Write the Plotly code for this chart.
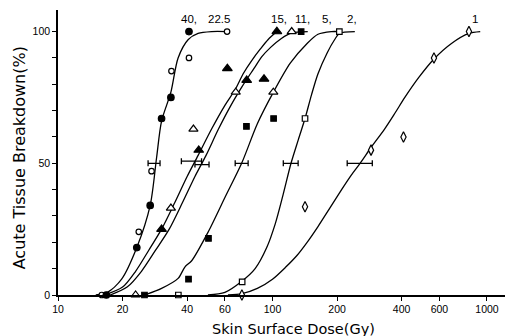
import math
import plotly.graph_objects as go

# ---------------- data ----------------
# observed points (dose in Gy, % breakdown)
fc_x = [16.8, 23.3, 26.9, 30.4, 33.6, 40.8]          # filled circles
fc_y = [0, 18, 34, 67, 75, 100]
oc_x = [16.0, 23.8, 27.3, 33.8, 40.8, 61.4]          # open circles
oc_y = [0, 24, 47, 85, 90, 100]
ft_x = [30.4, 45.3, 61.6, 75.8, 91.3, 104.8]         # filled triangles
ft_y = [25, 55, 86, 81.5, 82, 100]
ot_x = [23.0, 33.6, 42.8, 67.4, 100.9, 122.9]        # open triangles
ot_y = [0, 33, 63, 77, 77, 100]
fs_x = [25.3, 40.6, 50.3, 75.6, 101.2, 136]          # filled squares
fs_y = [0, 6, 21.5, 64, 67, 100]
os_x = [36.4, 72.2, 141.8, 205]                      # open squares
os_y = [0, 5, 67, 100]
od_x = [72, 141.8, 288, 408, 566, 824]               # open diamonds
od_y = [0, 33.5, 55, 60, 90, 100]

# fitted curves
cA_x = [15, 17.0, 19.8, 23.3, 26.9, 28.8, 30.4, 33.6, 36.3, 40.5, 45, 52, 61.4]
cA_y = [0, 1, 6, 18, 34, 52, 66, 77, 90, 97, 99.3, 100, 100]
cB_x = [16.5, 20, 23, 26.5, 30.4, 35, 40, 45, 52, 60, 67, 73, 80, 88, 95.5, 104.8]
cB_y = [0, 3, 9, 17, 25, 35, 45, 53, 63, 72, 78, 84, 89, 93.5, 97, 100]
cC_x = [17.5, 21, 24.5, 28.5, 33, 38, 43.5, 49, 56, 64, 72, 76, 82, 89, 98, 110, 122.9, 146]
cC_y = [0, 3, 9, 17, 25, 35, 45, 53, 63, 72, 79, 82, 86, 90.4, 94, 97.4, 99.5, 100]
cD_x = [25.3, 30.4, 36.3, 39.1, 42, 50.2, 60, 71.8, 85, 101, 121, 145, 163, 188, 205]
cD_y = [0, 2.5, 6.3, 10.7, 13, 24, 37, 50, 65, 77, 88, 95.5, 99, 100, 100]
cE_x = [50, 60, 72.2, 83, 94, 103, 112, 122, 132, 141.8, 152, 163, 180, 195, 205, 242]
cE_y = [0, 1, 5.3, 10, 18, 27, 38, 50, 59, 67, 76, 84, 92, 97, 99.3, 100]
cF_x = [62, 72, 85, 100, 115, 130, 145, 163, 185, 210, 233, 256, 288, 333, 372,
        414, 480, 566, 683, 824, 930]
cF_y = [0, 0.5, 2.5, 6, 10.5, 15, 20, 26, 33, 40, 45.5, 50, 56, 63, 69,
        75, 82.5, 89.6, 95.5, 99.3, 100]

# ED50 horizontal error bars
bar_x = [28, 42, 47, 71.8, 122, 256]
bar_y = [50, 50.8, 49.5, 50, 50, 50]
bar_lo = [26.3, 37.6, 43.5, 67, 112.3, 223]
bar_hi = [29.9, 46.7, 50.6, 77, 131.7, 292]

# labels at the top of the curves
lab_txt = ["40,", "22.5", "15,", "11,", "5,", "2,", "1"]
lab_x = [40.6, 56.5, 107, 138.5, 180, 235, 881]

xtick_vals = [10, 20, 40, 60, 100, 200, 400, 600, 1000]
ytick_vals = [0, 10, 20, 30, 40, 50, 60, 70, 80, 90, 100]
ytick_text = ["0", "", "", "", "", "50", "", "", "", "", "100"]

FONT = "Liberation Sans"
TFONT = "DejaVu Sans"
fig = go.Figure()

line_style = dict(color="black", width=1.3, shape="spline", smoothing=0.8)
for cx, cy in [(cA_x, cA_y), (cB_x, cB_y), (cC_x, cC_y), (cD_x, cD_y), (cE_x, cE_y), (cF_x, cF_y)]:
    fig.add_trace(go.Scatter(x=cx, y=cy, mode="lines", line=line_style,
                             hoverinfo="skip", showlegend=False, cliponaxis=False))

fig.add_trace(go.Scatter(
    x=bar_x, y=bar_y, mode="markers", marker=dict(size=1, color="rgba(0,0,0,0)"),
    error_x=dict(type="data", symmetric=False,
                 array=[h - c for h, c in zip(bar_hi, bar_x)],
                 arrayminus=[c - l for l, c in zip(bar_lo, bar_x)],
                 color="black", thickness=1.3, width=3),
    showlegend=False, cliponaxis=False))

def add_pts(x, y, symbol, size, filled):
    fig.add_trace(go.Scatter(
        x=x, y=y, mode="markers", showlegend=False, cliponaxis=False,
        marker=dict(symbol=symbol, size=size,
                    color="black" if filled else "white",
                    line=dict(color="black", width=1.2))))

add_pts(oc_x, oc_y, "circle", 5.5, False)
add_pts(fc_x, fc_y, "circle", 6.5, True)
add_pts(ot_x, ot_y, "triangle-up", 8, False)
add_pts(ft_x, ft_y, "triangle-up", 8.5, True)
add_pts(os_x, os_y, "square", 5.5, False)
add_pts(fs_x, fs_y, "square", 5.5, True)
add_pts(od_x, od_y, "diamond-tall", 7.5, False)

for t, x in zip(lab_txt, lab_x):
    fig.add_annotation(x=math.log10(x), y=104.6, xref="x", yref="y", text=t, showarrow=False,
                       font=dict(family=FONT, size=11.5, color="black"),
                       xanchor="center", yanchor="middle")

fig.add_annotation(x=0.527, y=-0.12, xref="paper", yref="paper",
                   text="Skin Surface Dose(Gy)", showarrow=False,
                   font=dict(family=TFONT, size=14.5, color="black"),
                   xanchor="center", yanchor="middle")
fig.add_annotation(x=-0.087, y=0.48, xref="paper", yref="paper",
                   text="Acute Tissue Breakdown(%)", showarrow=False, textangle=-90,
                   font=dict(family=TFONT, size=16, color="black"),
                   xanchor="center", yanchor="middle")

fig.update_xaxes(type="log", range=[1, 3.084], tickvals=xtick_vals,
                 ticktext=[str(v) for v in xtick_vals],
                 showline=True, linecolor="black", linewidth=1.5,
                 ticks="outside", ticklen=4, tickwidth=1.2, tickcolor="black",
                 showgrid=False, zeroline=False,
                 tickfont=dict(family=FONT, size=10.5, color="black"))
fig.update_yaxes(range=[0, 108.2], tickvals=ytick_vals, ticktext=ytick_text,
                 showline=True, linecolor="black", linewidth=1.5,
                 ticks="outside", ticklen=4, tickwidth=1.2, tickcolor="black",
                 showgrid=False, zeroline=False,
                 tickfont=dict(family=FONT, size=10.5, color="black"))

fig.update_layout(width=506, height=336, margin=dict(l=58, r=1, t=10, b=41),
                  paper_bgcolor="white", plot_bgcolor="white",
                  font=dict(family=FONT, color="black"))

fig.write_html("out.html")
